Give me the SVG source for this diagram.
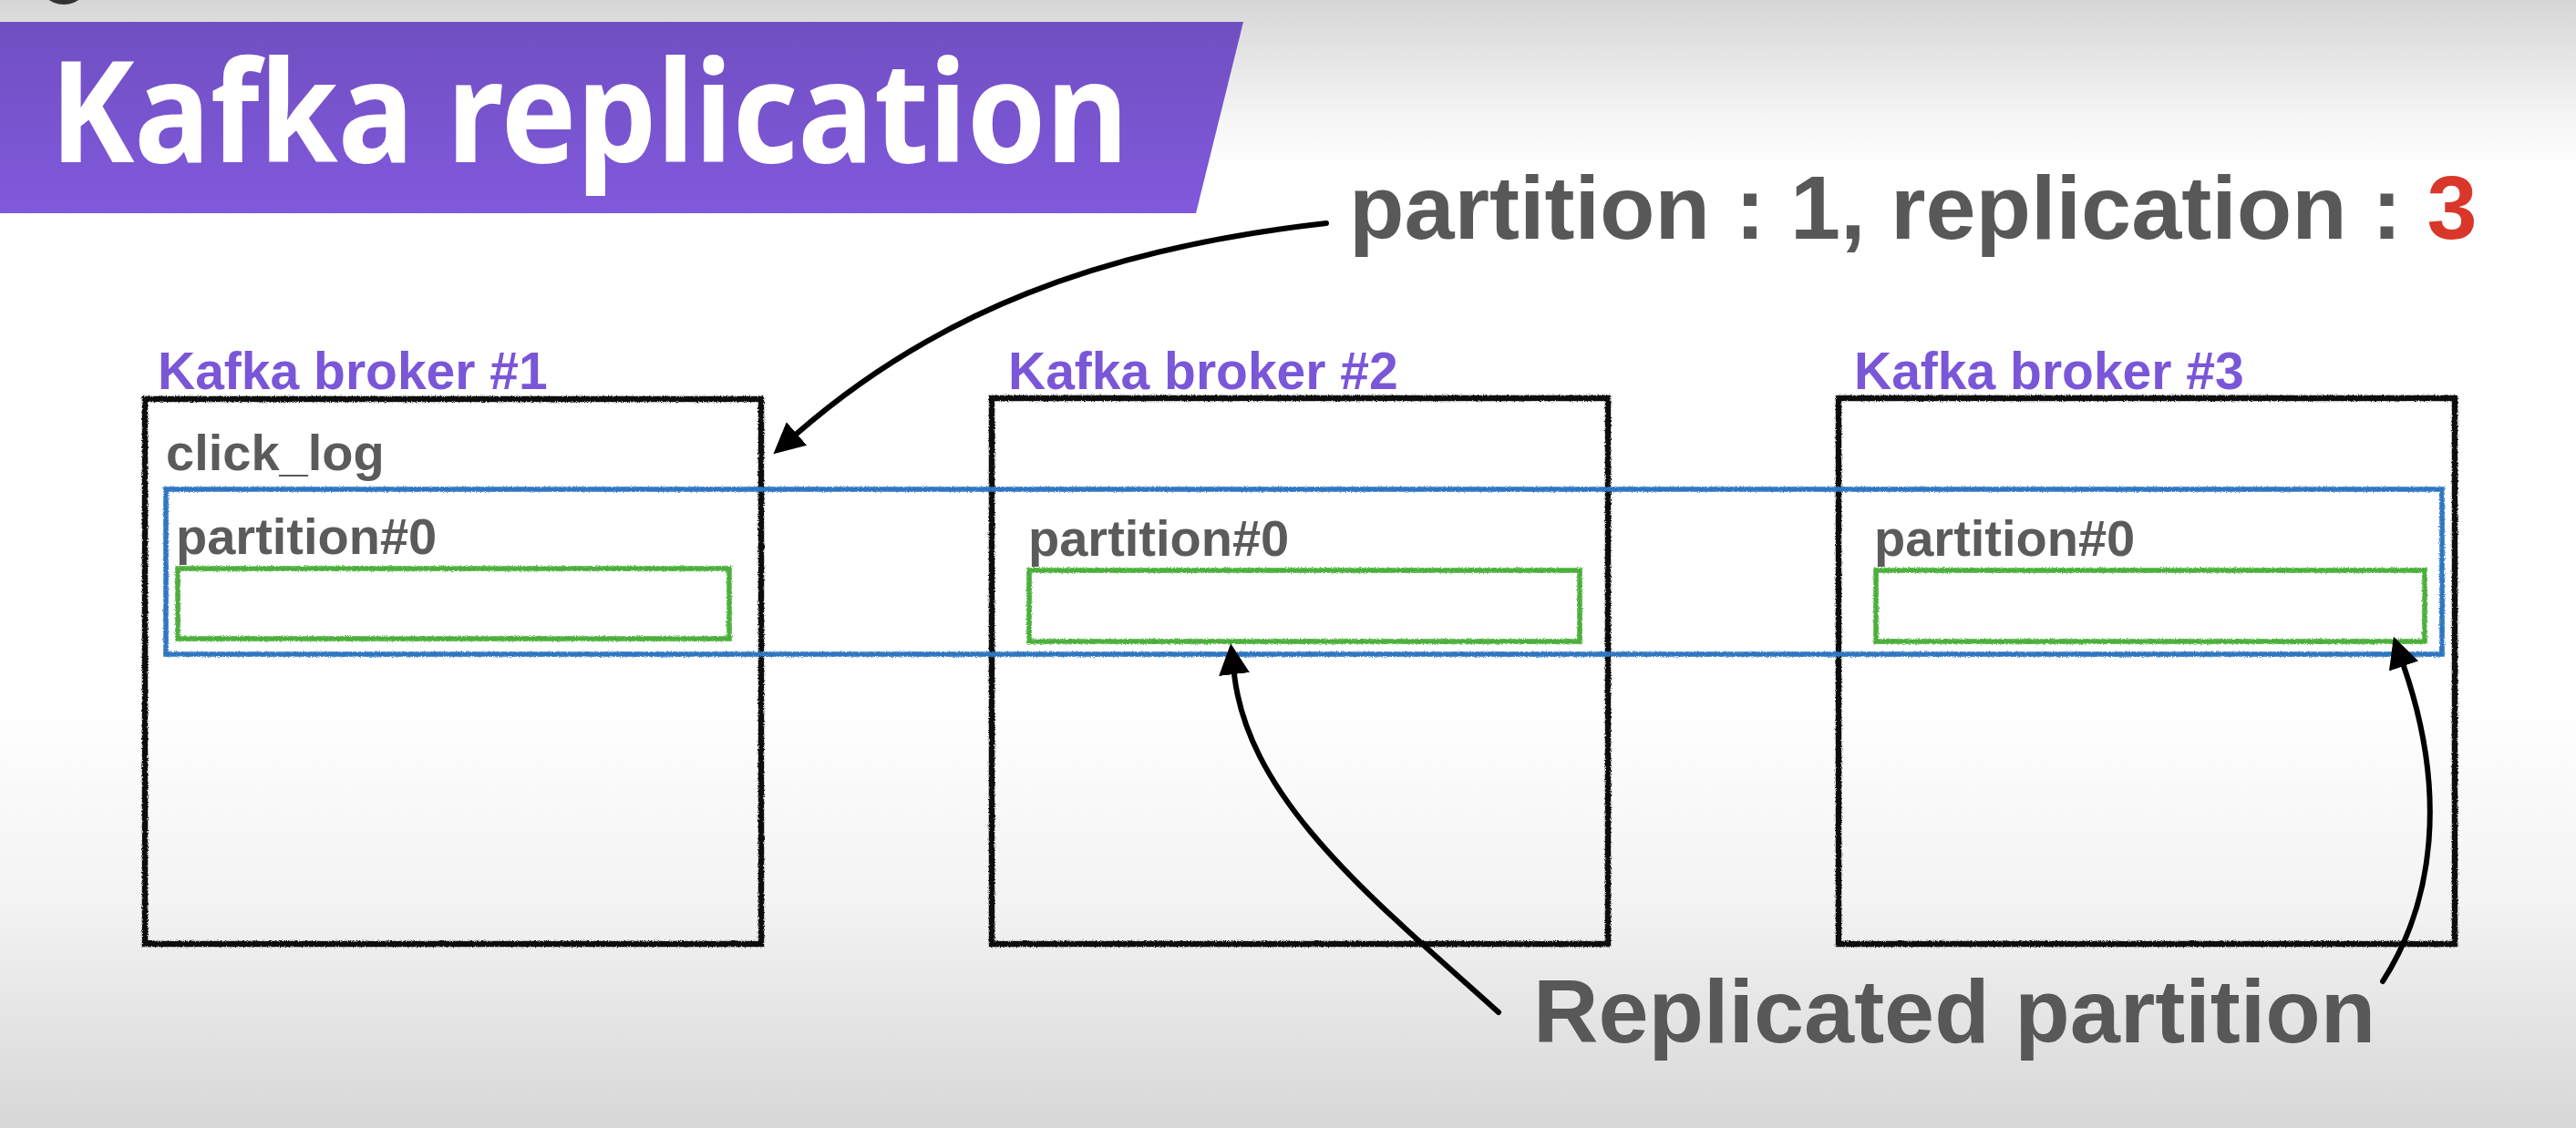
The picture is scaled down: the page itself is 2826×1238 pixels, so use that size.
<svg xmlns="http://www.w3.org/2000/svg" width="2826" height="1238" viewBox="0 0 2826 1238">
  <defs>
    <linearGradient id="bg" x1="0" y1="0" x2="0" y2="1">
      <stop offset="0" stop-color="#d6d6d6"/>
      <stop offset="0.1" stop-color="#f4f4f4"/>
      <stop offset="0.15" stop-color="#ffffff"/>
      <stop offset="0.62" stop-color="#ffffff"/>
      <stop offset="0.8" stop-color="#f3f3f3"/>
      <stop offset="1" stop-color="#d7d7d7"/>
    </linearGradient>
    <linearGradient id="banner" x1="0" y1="0" x2="0" y2="1">
      <stop offset="0" stop-color="#704fc2"/>
      <stop offset="1" stop-color="#8159dc"/>
    </linearGradient>
    <filter id="rough" filterUnits="userSpaceOnUse" x="0" y="0" width="2826" height="1238">
      <feTurbulence type="fractalNoise" baseFrequency="0.8" numOctaves="2" seed="4" result="n"/>
      <feDisplacementMap in="SourceGraphic" in2="n" scale="3.5" xChannelSelector="R" yChannelSelector="G"/>
    </filter>
    <marker id="head" markerUnits="userSpaceOnUse" viewBox="0 -18 36 36" refX="0" refY="0" markerWidth="36" markerHeight="36" orient="auto">
      <path d="M0,-17 L34,0 L0,17 Z" fill="#000"/>
    </marker>
  </defs>
  <style>
    .broker { fill: none; stroke: #111; stroke-width: 6.5; }
    .part { fill: none; stroke: #4bb03a; stroke-width: 5.5; }
    .group { fill: none; stroke: #2f76c2; stroke-width: 5.5; }
    .blabel { font-family: "Liberation Sans", Arial, sans-serif; font-weight: bold; font-size: 57px; fill: #7a56d8; }
    .ptext { font-family: "Liberation Sans", Arial, sans-serif; font-weight: bold; font-size: 56px; fill: #5b5b5b; }
    .big { font-family: "Liberation Sans", Arial, sans-serif; font-weight: bold; font-size: 99px; fill: #585858; }
    .conn { fill: none; stroke: #000; stroke-width: 6; stroke-linecap: round; marker-end: url(#head); }
  </style>

  <rect x="0" y="0" width="2826" height="1238" fill="url(#bg)"/>
  <ellipse cx="70" cy="-22" rx="28" ry="27" fill="#333"/>

  <g id="title">
    <polygon points="0,24 1364,24 1312,234 0,234" fill="url(#banner)"/>
    <text x="55" y="178" font-family="'Noto Sans', 'Open Sans', sans-serif" font-weight="bold" font-size="154" fill="#ffffff" textLength="1183" lengthAdjust="spacingAndGlyphs">Kafka replication</text>
  </g>

  <g id="note-config">
    <text class="big" x="1480" y="262">partition : 1, replication : <tspan fill="#d9372a">3</tspan></text>
  </g>

  <g id="note-replicated">
    <text class="big" x="1682" y="1144" fill="#565656">Replicated partition</text>
  </g>

  <g id="broker1">
    <text class="blabel" x="173" y="427">Kafka broker #1</text>
    <rect class="broker" x="159" y="438" width="676" height="598" filter="url(#rough)"/>
    <text class="ptext" x="182" y="516">click_log</text>
    <text class="ptext" x="193" y="608">partition#0</text>
    <rect id="b1-p0" class="part" x="195" y="624" width="605" height="77" filter="url(#rough)"/>
  </g>

  <g id="broker2">
    <text class="blabel" x="1106" y="427">Kafka broker #2</text>
    <rect class="broker" x="1088" y="437" width="676" height="599" filter="url(#rough)"/>
    <text class="ptext" x="1128" y="610">partition#0</text>
    <rect id="b2-p0" class="part" x="1129" y="626" width="604" height="78" filter="url(#rough)"/>
  </g>

  <g id="broker3">
    <text class="blabel" x="2034" y="427">Kafka broker #3</text>
    <rect class="broker" x="2017" y="437" width="676" height="599" filter="url(#rough)"/>
    <text class="ptext" x="2056" y="610">partition#0</text>
    <rect id="b3-p0" class="part" x="2058" y="626" width="602" height="78" filter="url(#rough)"/>
  </g>

  <g id="replica-set">
    <rect class="group" x="182" y="537" width="2497" height="181" filter="url(#rough)"/>
  </g>

  <g id="connectors">
    <path class="conn" d="M1455,245 C1205,273 1024,345 874,476"/>
    <path class="conn" d="M1644,1111 C1510,990 1370,880 1354,740"/>
    <path class="conn" d="M2614,1077 C2670,990 2685,870 2637,731"/>
  </g>
</svg>
